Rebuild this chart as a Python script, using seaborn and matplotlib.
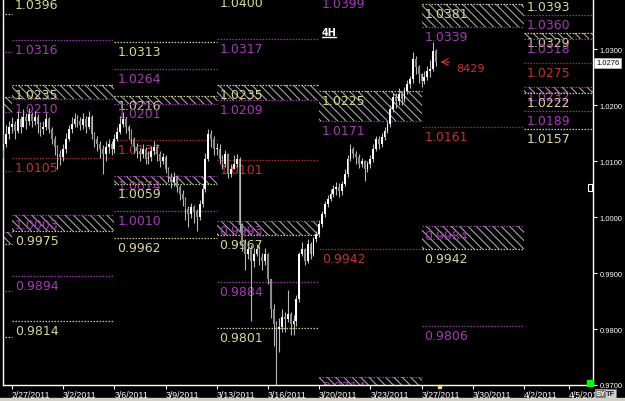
import matplotlib
matplotlib.use("Agg")
import matplotlib.pyplot as plt
import matplotlib.transforms as mtransforms
from matplotlib.patches import Rectangle
import numpy as np
import pandas as pd
import seaborn as sns

# ---------------- data ----------------
first_bar = -3
first_open = 1.0120
closes = [
    1.0130, 1.0148, 1.0161,
    1.0166, 1.0154, 1.0175, 1.0161, 1.0179, 1.0171,
    1.0184, 1.0171, 1.0179, 1.0166, 1.0157, 1.0161,
    1.0175, 1.0157, 1.0139, 1.0125, 1.0112, 1.0107,
    1.0121, 1.0139, 1.0157, 1.0166, 1.0175, 1.0171,
    1.0164, 1.0175, 1.0161, 1.0179, 1.0148, 1.0139,
    1.0130, 1.0121, 1.0112, 1.0125, 1.0130, 1.0121,
    1.0139, 1.0152, 1.0166, 1.0175, 1.0161, 1.0154,
    1.0139, 1.0125, 1.0118, 1.0112, 1.0121, 1.0104,
    1.0107, 1.0118, 1.0125, 1.0112, 1.0100, 1.0107,
    1.0086, 1.0071, 1.0063, 1.0071, 1.0054, 1.0041,
    1.0032, 1.0014, 1.0005, 1.0018, 1.0011, 1.0000,
    1.0023, 1.0050, 1.0104, 1.0148, 1.0139, 1.0121,
    1.0121, 1.0104, 1.0095, 1.0112, 1.0077, 1.0086,
    1.0095, 1.0104, 0.9985, 0.9952, 0.9934, 0.9943,
    0.9921, 0.9934, 0.9943, 0.9929, 0.9921, 0.9934,
    0.9889, 0.9836, 0.9809, 0.9800, 0.9804, 0.9821,
    0.9818, 0.9827, 0.9809, 0.9814, 0.9854, 0.9934,
    0.9943, 0.9921, 0.9952, 0.9934, 0.9961, 0.9970,
    0.9987, 1.0005, 1.0023, 1.0032, 1.0041, 1.0050,
    1.0054, 1.0046, 1.0059, 1.0077, 1.0104, 1.0121,
    1.0113, 1.0107, 1.0095, 1.0100, 1.0086, 1.0095,
    1.0104, 1.0121, 1.0139, 1.0130, 1.0143, 1.0154,
    1.0166, 1.0193, 1.0214, 1.0207, 1.0220, 1.0211,
    1.0225, 1.0238, 1.0246, 1.0282, 1.0268, 1.0255,
    1.0243, 1.0250, 1.0261, 1.0264, 1.0296, 1.0276,
]
highs = [
    1.0150, 1.0165, 1.0172,
    1.0178, 1.0172, 1.0190, 1.0180, 1.0192, 1.0185,
    1.0195, 1.0188, 1.0190, 1.0184, 1.0170, 1.0172,
    1.0186, 1.0178, 1.0160, 1.0145, 1.0128, 1.0120,
    1.0130, 1.0150, 1.0165, 1.0178, 1.0185, 1.0183,
    1.0178, 1.0185, 1.0180, 1.0190, 1.0182, 1.0152,
    1.0145, 1.0136, 1.0128, 1.0135, 1.0140, 1.0135,
    1.0148, 1.0160, 1.0180, 1.0188, 1.0178, 1.0165,
    1.0158, 1.0142, 1.0132, 1.0124, 1.0130, 1.0125,
    1.0118, 1.0126, 1.0135, 1.0130, 1.0118, 1.0115,
    1.0110, 1.0090, 1.0078, 1.0080, 1.0075, 1.0058,
    1.0048, 1.0036, 1.0020, 1.0025, 1.0022, 1.0015,
    1.0030, 1.0060, 1.0115, 1.0157, 1.0155, 1.0145,
    1.0133, 1.0130, 1.0110, 1.0120, 1.0115, 1.0095,
    1.0110, 1.0112, 1.0108, 0.9990, 0.9960, 0.9958,
    0.9950, 0.9945, 0.9952, 0.9948, 0.9935, 0.9945,
    0.9936, 0.9890, 0.9845, 0.9815, 0.9820, 0.9835,
    0.9830, 0.9870, 0.9830, 0.9825, 0.9860, 0.9938,
    0.9955, 0.9945, 0.9960, 0.9955, 0.9965, 0.9975,
    0.9995, 1.0010, 1.0028, 1.0040, 1.0050, 1.0058,
    1.0062, 1.0060, 1.0065, 1.0085, 1.0110, 1.0130,
    1.0125, 1.0118, 1.0112, 1.0106, 1.0102, 1.0100,
    1.0110, 1.0130, 1.0145, 1.0145, 1.0150, 1.0160,
    1.0172, 1.0200, 1.0222, 1.0222, 1.0230, 1.0225,
    1.0232, 1.0245, 1.0252, 1.0295, 1.0288, 1.0272,
    1.0258, 1.0260, 1.0270, 1.0280, 1.0313, 1.0300,
]
lows = [
    1.0105, 1.0125, 1.0140,
    1.0150, 1.0140, 1.0150, 1.0150, 1.0160, 1.0158,
    1.0165, 1.0160, 1.0165, 1.0150, 1.0145, 1.0148,
    1.0155, 1.0150, 1.0130, 1.0110, 1.0086, 1.0092,
    1.0100, 1.0115, 1.0135, 1.0150, 1.0160, 1.0160,
    1.0155, 1.0158, 1.0150, 1.0158, 1.0140, 1.0125,
    1.0118, 1.0105, 1.0077, 1.0100, 1.0115, 1.0110,
    1.0115, 1.0135, 1.0148, 1.0160, 1.0150, 1.0140,
    1.0130, 1.0115, 1.0105, 1.0100, 1.0105, 1.0095,
    1.0095, 1.0100, 1.0110, 1.0100, 1.0090, 1.0095,
    1.0078, 1.0062, 1.0052, 1.0055, 1.0045, 1.0030,
    1.0020, 0.9995, 0.9982, 0.9998, 0.9990, 0.9975,
    0.9995, 1.0018, 1.0045, 1.0100, 1.0125, 1.0110,
    1.0110, 1.0095, 1.0085, 1.0090, 1.0070, 1.0072,
    1.0088, 1.0090, 0.9975, 0.9940, 0.9905, 0.9925,
    0.9814, 0.9910, 0.9930, 0.9915, 0.9905, 0.9915,
    0.9880, 0.9820, 0.9770, 0.9700, 0.9759, 0.9795,
    0.9795, 0.9812, 0.9790, 0.9790, 0.9805, 0.9848,
    0.9930, 0.9915, 0.9918, 0.9925, 0.9930, 0.9955,
    0.9965, 0.9982, 1.0000, 1.0018, 1.0028, 1.0036,
    1.0040, 1.0035, 1.0040, 1.0055, 1.0072, 1.0100,
    1.0105, 1.0095, 1.0088, 1.0090, 1.0065, 1.0080,
    1.0088, 1.0098, 1.0118, 1.0122, 1.0125, 1.0138,
    1.0150, 1.0160, 1.0188, 1.0195, 1.0200, 1.0200,
    1.0205, 1.0220, 1.0230, 1.0240, 1.0255, 1.0240,
    1.0232, 1.0238, 1.0245, 1.0250, 1.0260, 1.0270,
]

date_tick_bars = [0, 18, 36, 54, 72, 90, 108, 126, 144, 162, 180, 195.8]
date_tick_labels = ["2/27/2011", "3/2/2011", "3/6/2011", "3/9/2011", "3/13/2011",
                    "3/16/2011", "3/20/2011", "3/23/2011", "3/27/2011", "3/30/2011",
                    "4/2/2011", "4/5/201"]
price_ticks = [0.9700, 0.9800, 0.9900, 1.0000, 1.0100, 1.0200, 1.0300]

# weekly level sets (start / end in bar index)
week_start = [-36, 0, 36, 72, 108, 144, 180]
week_end = [0, 36, 72, 108, 144, 180, 205]

lvl_week = [0, 0, 0, 0, 0, 0, 0, 0, 0,
            1, 1, 1, 1, 1, 1, 1, 1, 1,
            2, 2, 2, 2, 2, 2, 2, 2, 2,
            3, 3, 3, 3, 3, 3, 3, 3, 3,
            4, 4, 4, 4, 4, 4,
            5, 5, 5, 5, 5, 5,
            6, 6, 6, 6, 6, 6, 6, 6, 6]
lvl_price = [1.0362, 1.0295, 1.0214, 1.0188, 1.0082, 0.9973, 0.9952, 0.9868, 0.9786,
             1.0396, 1.0316, 1.0235, 1.0210, 1.0105, 1.0003, 0.9975, 0.9894, 0.9814,
             1.0313, 1.0264, 1.0216, 1.0201, 1.0137, 1.0074, 1.0059, 1.0010, 0.9962,
             1.0400, 1.0317, 1.0235, 1.0209, 1.0101, 0.9993, 0.9967, 0.9884, 0.9801,
             1.0399, 1.0225, 1.0171, 0.9942, 0.9714, 0.9690,
             1.0381, 1.0339, 1.0161, 0.9984, 0.9942, 0.9806,
             1.0393, 1.0360, 1.0329, 1.0318, 1.0275, 1.0232, 1.0222, 1.0189, 1.0157]
lvl_kind = ["Y", "P", "Y", "P", "R", "P", "Y", "P", "Y",
            "Y", "P", "Y", "P", "R", "P", "Y", "P", "Y",
            "Y", "P", "Y", "P", "R", "P", "Y", "P", "Y",
            "Y", "P", "Y", "P", "R", "P", "Y", "P", "Y",
            "P", "Y", "P", "R", "P", "Y",
            "Y", "P", "R", "P", "Y", "P",
            "Y", "P", "Y", "P", "R", "P", "Y", "P", "Y"]

zone_week = [0, 0, 1, 1, 2, 2, 3, 3, 4, 4, 5, 5, 6, 6]
zone_top = [1.0214, 0.9973, 1.0235, 1.0003, 1.0216, 1.0074, 1.0235, 0.9993,
            1.0225, 0.9714, 1.0381, 0.9984, 1.0329, 1.0232]
zone_bottom = [1.0188, 0.9952, 1.0210, 0.9975, 1.0201, 1.0059, 1.0209, 0.9967,
               1.0171, 0.9690, 1.0339, 0.9942, 1.0318, 1.0222]

last_price = 1.0276
marker_text = "8429"
timeframe = "4H"

# ---------------- style ----------------
sns.set_theme(style="dark", rc={
    "figure.facecolor": "black", "axes.facecolor": "black",
    "axes.edgecolor": "white", "axes.grid": False,
    "xtick.color": "white", "ytick.color": "white",
    "text.color": "white", "hatch.linewidth": 0.8,
})
plt.rcParams["font.family"] = ["DejaVu Sans"]
narrow = ["Liberation Sans Narrow", "Liberation Sans", "DejaVu Sans"]

kind_color = {"Y": "#d8d894", "P": "#a63ab6", "R": "#c23030"}
line_color = {"Y": "#c8c890", "P": "#9a36aa", "R": "#a82828"}

fig = plt.figure(figsize=(6.25, 4.02), dpi=100)
ax = fig.add_axes([3 / 625, 1 - 386 / 402, 590 / 625, 386 / 402])
ax.set_facecolor("black")

x_lo, x_hi = -3.16, 204.3
y_lo, y_hi = 0.9700, 1.03893
ax.set_xlim(x_lo, x_hi)
ax.set_ylim(y_lo, y_hi)

# zones
for w, top, bot in zip(zone_week, zone_top, zone_bottom):
    x0, x1 = week_start[w], week_end[w]
    ax.add_patch(Rectangle((x0, bot), x1 - x0, top - bot, fill=False,
                           hatch="\\\\\\\\", edgecolor="#a4a4a4", lw=0, zorder=1))

# level lines and labels
lab_tr = mtransforms.offset_copy(ax.transData, fig=fig, x=0, y=-3, units="dots")
for w, p, k in zip(lvl_week, lvl_price, lvl_kind):
    x0, x1 = week_start[w], week_end[w]
    ax.plot([x0, x1], [p, p], color=line_color[k], lw=0.9,
            linestyle=(0, (1.2, 1.2)), zorder=2)
    if w >= 1 and p > y_lo:
        ax.text(x0 + 1.0, p, f"{p:.4f}", color=kind_color[k], fontsize=9,
                ha="left", va="top", transform=lab_tr, clip_on=True, zorder=2)

# candles
idx = np.arange(first_bar, first_bar + len(closes))
opens = [first_open] + closes[:-1]
df = pd.DataFrame({"i": idx, "o": opens, "h": highs, "l": lows, "c": closes})
df["h"] = df[["h", "o", "c"]].max(axis=1)
df["l"] = df[["l", "o", "c"]].min(axis=1)
up = df["c"] >= df["o"]
ax.vlines(df["i"], df["l"], df["h"], color="#b8b8b8", lw=0.8, zorder=3)
body = (df["c"] - df["o"]).abs().clip(lower=0.00018)
ax.bar(df["i"][up], body[up], bottom=df["o"][up], width=0.62,
       color="white", lw=0, zorder=4)
ax.bar(df["i"][~up], body[~up], bottom=df["c"][~up], width=0.62,
       color="#8c8c8c", lw=0, zorder=4)

# timeframe label
ax.text(109.0, 1.0322, timeframe, color="white", fontsize=7, fontweight="bold",
        ha="left", va="bottom", zorder=5)
ax.plot([109.0, 113.9], [1.0321, 1.0321], color="white", lw=1.0, zorder=5)

# arrow with ticket number
ax.annotate("", xy=(149.6, 1.02768), xytext=(154.8, 1.02768),
            arrowprops=dict(arrowstyle="->", color="#c83030", lw=0.9), zorder=5)
ax.text(156.1, 1.0266, marker_text, color="#c83030", fontsize=8,
        ha="left", va="center", zorder=5)

# axes
ax.spines["top"].set_visible(False)
for s in ["left", "right", "bottom"]:
    ax.spines[s].set_color("white")
    ax.spines[s].set_linewidth(1.0)
ax.yaxis.tick_right()
ax.set_yticks(price_ticks, [f"{v:.4f}" for v in price_ticks])
ax.tick_params(axis="y", right=True, left=False, length=3, width=0.8,
               color="white", labelcolor="white", labelsize=5.5, pad=2)
for t in ax.get_yticklabels():
    t.set_family(narrow)
ax.set_xticks(date_tick_bars, date_tick_labels)
ax.tick_params(axis="x", bottom=True, length=3, width=0.8, color="white",
               labelcolor="white", labelsize=6.3, pad=0.5)
for t in ax.get_xticklabels():
    t.set_ha("left")
    t.set_family(narrow)

# current price box
fig.text(596 / 625, 1 - 64 / 402, f"{last_price:.4f}", color="black", fontsize=5.5,
         family=narrow, ha="left", va="center",
         bbox=dict(boxstyle="square,pad=0.25", fc="white", ec="#c0c0c0", lw=0.5))

# small decorations
fig.patches.append(Rectangle((587 / 625, 1 - 387 / 402), 6 / 625, 6 / 402,
                             transform=fig.transFigure, color="#00ff00", zorder=6))
fig.patches.append(Rectangle((588 / 625, 1 - 192 / 402), 4 / 625, 7 / 402,
                             transform=fig.transFigure, fc="black", ec="white",
                             lw=0.8, zorder=6))
fig.patches.append(Rectangle((438 / 625, 1 - 389 / 402), 3 / 625, 3 / 402,
                             transform=fig.transFigure, color="#e0e070", zorder=6))
fig.patches.append(Rectangle((0, 0), 1, 3 / 402, transform=fig.transFigure,
                             color="#d4d0c8", zorder=6))
fig.text(596 / 625, 1 - 395 / 402, "SY", color="white", fontsize=5.5, fontweight="bold",
         family=narrow, ha="left", va="center",
         bbox=dict(boxstyle="square,pad=0.15", fc="#707070", ec="#c0c0c0", lw=0.5))
fig.text(606 / 625, 1 - 395 / 402, "TF", color="#202020", fontsize=5.5, fontweight="bold",
         family=narrow, ha="left", va="center",
         bbox=dict(boxstyle="square,pad=0.15", fc="#d0d0d0", ec="#808080", lw=0.5))

fig.savefig("out.png", dpi=100, facecolor="black")
